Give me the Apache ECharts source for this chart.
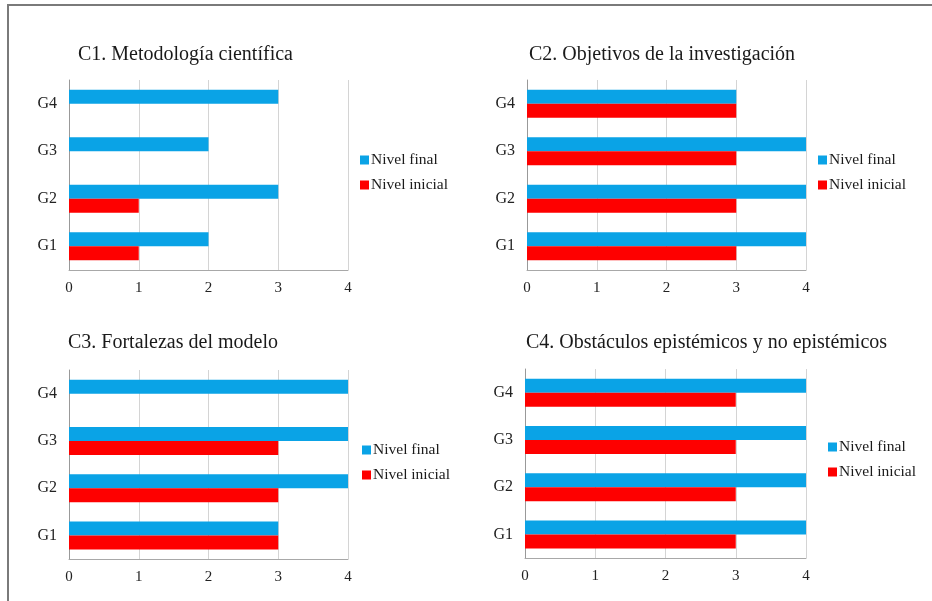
<!DOCTYPE html>
<html>
<head>
<meta charset="utf-8">
<script src="https://cdn.jsdelivr.net/npm/echarts@6/dist/echarts.min.js"></script>
<style>
  html, body { margin: 0; padding: 0; background: #fff; }
  #chart { width: 932px; height: 601px; }
</style>
</head>
<body>
<div id="chart"></div>
<script>
// groups, bottom to top
var groups = ['G1', 'G2', 'G3', 'G4'];
var titles = [
  'C1. Metodología científica',
  'C2. Objetivos de la investigación',
  'C3. Fortalezas del modelo',
  'C4. Obstáculos epistémicos y no epistémicos'
];
var legendNames = ['Nivel final', 'Nivel inicial'];

var c1Final = [2, 3, 2, 3];
var c1Inicial = [1, 1, 0, 0];
var c2Final = [4, 4, 4, 3];
var c2Inicial = [3, 3, 3, 3];
var c3Final = [3, 4, 4, 4];
var c3Inicial = [3, 3, 3, 0];
var c4Final = [4, 4, 4, 4];
var c4Inicial = [3, 3, 3, 3];

var xMin = 0, xMax = 4, xStep = 1;

window.onload = function () {
  var chart = echarts.init(document.getElementById('chart'));
  var font = 'Liberation Serif';
  var blue = '#0aa3e6';
  var red = '#fe0000';

  // panel boxes: grid + title + legend positions
  var panels = [
    { grid: { left: 69, top: 80, width: 279, height: 190 }, title: [78, 45], legend: [360, 152], fin: c1Final, ini: c1Inicial },
    { grid: { left: 527, top: 80, width: 279, height: 190 }, title: [529, 45], legend: [818, 152], fin: c2Final, ini: c2Inicial },
    { grid: { left: 69, top: 370, width: 279, height: 189 }, title: [68, 333], legend: [362, 442], fin: c3Final, ini: c3Inicial },
    { grid: { left: 525, top: 369, width: 281, height: 189 }, title: [526, 333], legend: [828, 439], fin: c4Final, ini: c4Inicial }
  ];

  var grid = [], xAxis = [], yAxis = [], series = [], title = [], legend = [];
  panels.forEach(function (p, i) {
    grid.push(p.grid);
    title.push({
      text: titles[i], left: p.title[0], top: p.title[1], padding: 0,
      textStyle: { fontFamily: font, fontSize: 20, fontWeight: 'normal', color: '#1a1a1a' }
    });
    legend.push({
      left: p.legend[0], top: p.legend[1], orient: 'vertical', padding: 0,
      icon: 'rect', itemWidth: 9, itemHeight: 9, itemGap: 9,
      data: legendNames,
      textStyle: { fontFamily: font, fontSize: 15.5, color: '#1a1a1a', lineHeight: 16, padding: [0, 0, 0, -3] }
    });
    xAxis.push({
      type: 'value', gridIndex: i, min: xMin, max: xMax, interval: xStep,
      axisLine: { show: true, lineStyle: { color: '#a8a8a8', width: 1 } },
      axisTick: { show: false },
      splitLine: { show: true, lineStyle: { color: '#d4d4d4', width: 1 } },
      axisLabel: { fontFamily: font, fontSize: 15, color: '#222', margin: 11 }
    });
    yAxis.push({
      type: 'category', gridIndex: i, data: groups,
      axisLine: { show: true, lineStyle: { color: '#999', width: 1 } },
      axisTick: { show: false },
      axisLabel: { fontFamily: font, fontSize: 16, color: '#222', margin: 12 }
    });
    series.push({
      name: legendNames[0], type: 'bar', xAxisIndex: i, yAxisIndex: i,
      data: p.fin, barWidth: 14, barGap: '0%',
      itemStyle: { color: blue }
    });
    series.push({
      name: legendNames[1], type: 'bar', xAxisIndex: i, yAxisIndex: i,
      data: p.ini, barWidth: 14, barGap: '0%',
      itemStyle: { color: red }
    });
  });

  chart.setOption({
    animation: false,
    backgroundColor: '#fff',
    color: [blue, red],
    title: title,
    legend: legend,
    grid: grid,
    xAxis: xAxis,
    yAxis: yAxis,
    series: series,
    graphic: [
      { type: 'line', shape: { x1: 8, y1: 5, x2: 932, y2: 5 }, style: { stroke: '#7a7a7a', lineWidth: 2 } },
      { type: 'line', shape: { x1: 8, y1: 4, x2: 8, y2: 601 }, style: { stroke: '#7a7a7a', lineWidth: 2 } }
    ]
  });
};
</script>
</body>
</html>
